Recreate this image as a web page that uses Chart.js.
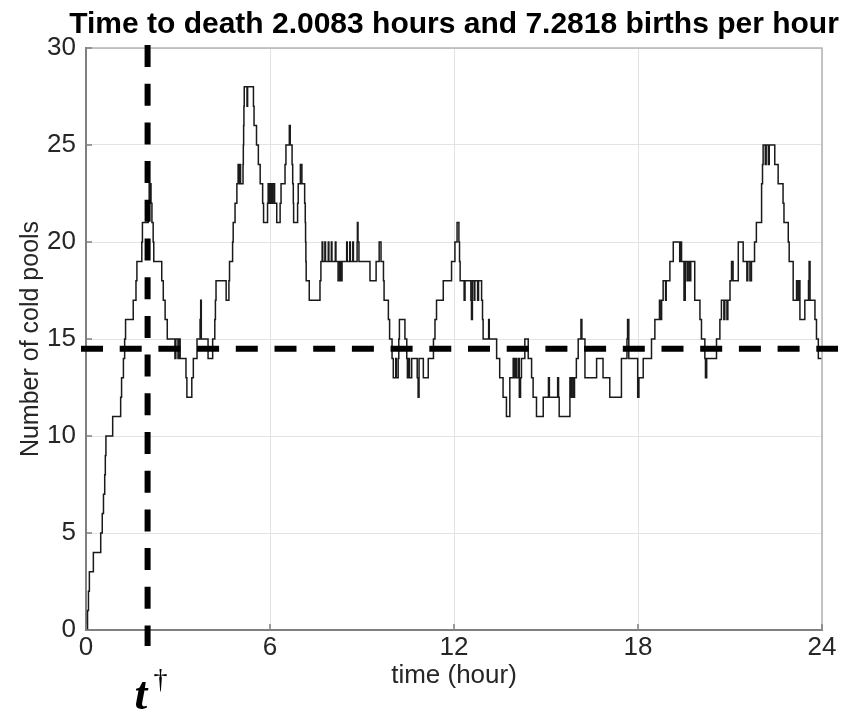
<!DOCTYPE html>
<html>
<head>
<meta charset="utf-8">
<title>Cold pools</title>
<script src="https://cdn.jsdelivr.net/npm/chart.js@4.4.1/dist/chart.umd.min.js"></script>
<style>
  html, body { margin: 0; padding: 0; background: #fff; }
  canvas { display: block; }
</style>
</head>
<body>
<canvas id="poolsChart" width="850" height="712"></canvas>
<script>
// change points of the birth/death process: time (hour) and number of cold pools from that time on
const hours = [
  0, 0.05, 0.08, 0.11, 0.24, 0.48, 0.53, 0.57, 0.61, 0.63, 0.65, 0.87, 1.13, 1.16, 1.22, 1.26, 1.29, 1.54, 1.63, 1.66,
  1.82, 1.84, 2.03, 2.06, 2.08, 2.09, 2.12, 2.15, 2.19, 2.21, 2.47, 2.52, 2.58, 2.65, 2.90, 2.93, 3.00, 3.03, 3.07, 3.26,
  3.29, 3.45, 3.50, 3.62, 3.72, 3.74, 3.76, 3.98, 4.13, 4.20, 4.22, 4.24, 4.57, 4.66, 4.68, 4.78, 4.80, 4.86, 4.92, 4.96,
  4.98, 5.02, 5.04, 5.12, 5.13, 5.14, 5.15, 5.16, 5.25, 5.27, 5.46, 5.48, 5.56, 5.62, 5.68, 5.76, 5.79, 5.92, 5.94, 5.98,
  6.02, 6.06, 6.10, 6.15, 6.22, 6.33, 6.36, 6.49, 6.52, 6.63, 6.66, 6.72, 6.74, 6.76, 6.77, 6.90, 6.92, 6.99, 7.04, 7.13,
  7.15, 7.16, 7.17, 7.18, 7.28, 7.63, 7.66, 7.70, 7.72, 7.79, 7.81, 7.90, 7.92, 8.00, 8.02, 8.13, 8.15, 8.22, 8.27, 8.31,
  8.35, 8.50, 8.52, 8.60, 8.62, 8.70, 8.72, 8.84, 8.85, 8.87, 8.90, 9.26, 9.46, 9.56, 9.62, 9.70, 9.72, 9.86, 9.90, 9.98,
  10.02, 10.10, 10.12, 10.18, 10.20, 10.22, 10.40, 10.46, 10.48, 10.52, 10.55, 10.62, 10.80, 10.83, 10.86, 11.00, 11.16, 11.33, 11.38, 11.43,
  11.65, 11.92, 12.03, 12.10, 12.16, 12.18, 12.20, 12.33, 12.36, 12.55, 12.57, 12.60, 12.66, 12.68, 12.77, 12.80, 12.90, 12.93, 12.95, 13.13,
  13.15, 13.39, 13.49, 13.60, 13.71, 13.82, 13.93, 13.96, 14.00, 14.03, 14.09, 14.13, 14.17, 14.20, 14.31, 14.42, 14.53, 14.58, 14.69, 14.91,
  15.08, 15.11, 15.38, 15.41, 15.43, 15.78, 15.82, 15.85, 15.90, 15.93, 15.99, 16.05, 16.14, 16.17, 16.27, 16.65, 16.86, 17.08, 17.46, 17.64,
  17.66, 17.70, 17.99, 18.03, 18.17, 18.44, 18.55, 18.70, 18.72, 18.77, 18.82, 18.90, 18.92, 19.04, 19.15, 19.36, 19.40, 19.42, 19.50, 19.54,
  19.60, 19.63, 19.68, 19.72, 19.85, 20.02, 20.07, 20.18, 20.20, 20.24, 20.56, 20.67, 20.72, 20.80, 20.83, 20.90, 20.93, 21.00, 21.05, 21.10,
  21.27, 21.43, 21.55, 21.58, 21.65, 21.70, 21.80, 21.86, 22.03, 22.06, 22.08, 22.15, 22.18, 22.25, 22.28, 22.46, 22.57, 22.73, 22.76, 22.90,
  22.93, 23.06, 23.17, 23.22, 23.24, 23.28, 23.44, 23.56, 23.58, 23.61, 23.77, 23.82, 23.88, 24
];
const pools = [
  0, 1, 2, 3, 4, 5, 6, 7, 8, 9, 10, 11, 12, 13, 14, 15, 16, 17, 18, 19,
  20, 21, 22, 23, 22, 23, 22, 21, 20, 19, 18, 17, 16, 15, 14, 15, 14, 15, 14, 13,
  12, 13, 14, 15, 16, 17, 15, 14, 15, 16, 17, 18, 17, 18, 19, 20, 21, 22, 23, 24,
  23, 24, 23, 24, 25, 26, 27, 28, 27, 28, 27, 26, 25, 24, 23, 22, 21, 22, 23, 22,
  23, 22, 23, 22, 21, 22, 23, 24, 25, 26, 25, 24, 23, 22, 21, 22, 23, 24, 23, 22,
  21, 20, 19, 18, 17, 18, 19, 20, 19, 20, 19, 20, 19, 20, 19, 20, 19, 18, 19, 18,
  19, 20, 19, 20, 19, 20, 19, 20, 21, 20, 19, 18, 19, 20, 19, 18, 17, 16, 15, 14,
  13, 14, 13, 14, 15, 16, 15, 14, 13, 14, 13, 14, 13, 12, 14, 13, 14, 15, 16, 17,
  18, 19, 20, 21, 20, 19, 18, 17, 18, 17, 16, 18, 17, 18, 17, 18, 17, 16, 15, 16,
  15, 14, 13, 12, 11, 13, 14, 13, 14, 13, 14, 12, 13, 14, 15, 14, 13, 12, 11, 12,
  13, 12, 13, 12, 11, 13, 12, 13, 12, 13, 14, 15, 16, 15, 13, 14, 13, 12, 14, 15,
  16, 14, 12, 13, 14, 15, 16, 17, 16, 17, 18, 17, 18, 19, 20, 19, 20, 19, 17, 19,
  18, 19, 18, 19, 17, 16, 15, 14, 13, 14, 15, 16, 17, 16, 17, 16, 17, 18, 19, 18,
  20, 19, 18, 19, 18, 19, 20, 21, 23, 24, 25, 24, 25, 24, 25, 24, 23, 22, 21, 20,
  19, 17, 18, 17, 18, 16, 17, 18, 19, 17, 16, 15, 14, 14
];
const xTickValues = [0, 6, 12, 18, 24];
const yTickValues = [0, 5, 10, 15, 20, 25, 30];
const deathTime = 2.0083;   // t-dagger
const meanPools = 14.5;     // dashed horizontal level
const chartTitle = 'Time to death 2.0083 hours and 7.2818 births per hour';

const FONT = "'Liberation Sans', Arial, Helvetica, sans-serif";
const TEXT = '#262626';
const AXIS = '#808080';

// title (wider than the plot, so drawn here), dashed reference lines,
// MATLAB-style box and inward ticks, t-dagger label
const annotate = {
  id: 'annotate',
  afterDatasetsDraw(chart) {
    const { ctx, chartArea: a, scales: { x, y } } = chart;
    ctx.save();

    // title centred over the plot
    ctx.fillStyle = '#000';
    ctx.font = "bold 30px " + FONT;
    ctx.textAlign = 'center';
    ctx.textBaseline = 'alphabetic';
    ctx.fillText(chartTitle, (a.left + a.right) / 2, 33);

    // top / right edges of the box
    ctx.strokeStyle = '#b4b4b4';
    ctx.lineWidth = 1.5;
    ctx.beginPath();
    ctx.moveTo(a.left, a.top);
    ctx.lineTo(a.right, a.top);
    ctx.lineTo(a.right, a.bottom);
    ctx.stroke();

    // inward tick marks
    ctx.strokeStyle = AXIS;
    ctx.lineWidth = 1.5;
    ctx.beginPath();
    xTickValues.forEach(v => {
      const px = x.getPixelForValue(v);
      ctx.moveTo(px, a.bottom);
      ctx.lineTo(px, a.bottom - 6);
    });
    yTickValues.forEach(v => {
      const py = y.getPixelForValue(v);
      ctx.moveTo(a.left, py);
      ctx.lineTo(a.left + 6, py);
    });
    ctx.stroke();

    // dashed lines
    ctx.strokeStyle = '#000';
    ctx.lineWidth = 6;
    ctx.setLineDash([22, 16.7]);
    const tx = x.getPixelForValue(deathTime);
    ctx.beginPath();
    ctx.moveTo(tx, a.top - 3);
    ctx.lineTo(tx, a.bottom + 16);
    ctx.stroke();
    const my = y.getPixelForValue(meanPools);
    ctx.beginPath();
    ctx.moveTo(a.left - 5, my);
    ctx.lineTo(a.right + 16, my);
    ctx.stroke();
    ctx.setLineDash([]);

    // t-dagger label under the vertical line
    ctx.fillStyle = '#000';
    ctx.textAlign = 'left';
    ctx.font = "italic bold 46px 'Liberation Serif', 'Times New Roman', serif";
    ctx.fillText('t', tx - 13, 709);
    ctx.font = "28px 'Liberation Serif', 'Times New Roman', serif";
    ctx.fillText('\u2020', tx + 6, 688);

    ctx.restore();
  }
};

const points = hours.map((h, i) => ({ x: h, y: pools[i] }));

new Chart(document.getElementById('poolsChart'), {
  type: 'line',
  data: {
    datasets: [{
      label: 'Number of cold pools',
      data: points,
      stepped: true,
      borderColor: '#1a1a1a',
      borderWidth: 1.5,
      pointRadius: 0,
      fill: false
    }]
  },
  options: {
    responsive: false,
    animation: false,
    devicePixelRatio: 1,
    layout: { padding: { top: 48, right: 28, bottom: 0, left: 0 } },
    plugins: {
      legend: { display: false },
      tooltip: { enabled: false },
      title: { display: false }
    },
    scales: {
      x: {
        type: 'linear',
        min: 0,
        max: 24,
        afterBuildTicks: s => { s.ticks = xTickValues.map(v => ({ value: v })); },
        afterFit: s => { s.height = 82; },
        ticks: { color: TEXT, font: { family: FONT, size: 26 }, padding: 2 },
        grid: { color: '#e3e3e3', lineWidth: 1, drawTicks: false },
        border: { color: AXIS, width: 2 },
        title: {
          display: true,
          text: 'time (hour)',
          color: TEXT,
          font: { family: FONT, size: 26 },
          padding: { top: 0, bottom: 21 }
        }
      },
      y: {
        min: 0,
        max: 30,
        afterBuildTicks: s => { s.ticks = yTickValues.map(v => ({ value: v })); },
        afterFit: s => { s.width = 86; },
        ticks: { color: TEXT, font: { family: FONT, size: 26 }, padding: 10 },
        grid: { color: '#e3e3e3', lineWidth: 1, drawTicks: false },
        border: { color: AXIS, width: 2 },
        title: {
          display: true,
          text: 'Number of cold pools',
          color: TEXT,
          font: { family: FONT, size: 25 },
          padding: { top: 16, bottom: 0 }
        }
      }
    }
  },
  plugins: [annotate]
});
</script>
</body>
</html>
